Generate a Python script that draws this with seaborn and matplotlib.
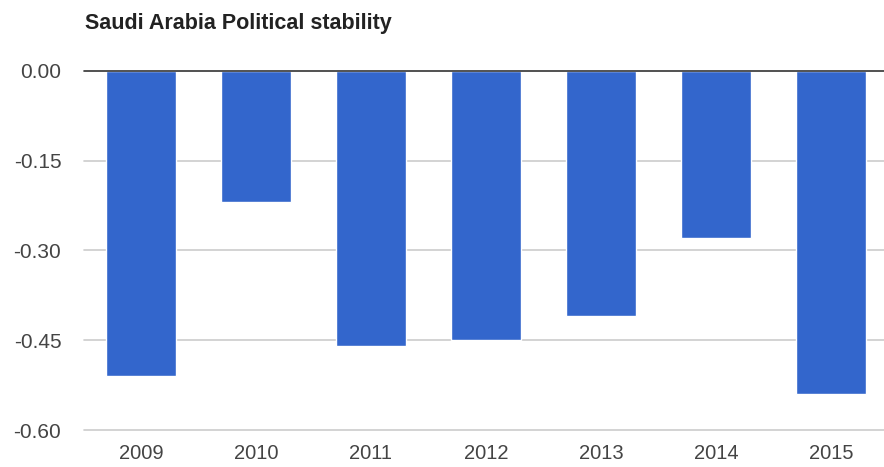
import matplotlib
matplotlib.use("Agg")
import matplotlib.pyplot as plt
import seaborn as sns
import pandas as pd

years = ["2009", "2010", "2011", "2012", "2013", "2014", "2015"]
values = [-0.51, -0.22, -0.46, -0.45, -0.41, -0.28, -0.54]
yticks = [0.0, -0.15, -0.30, -0.45, -0.60]
ytick_labels = ["0.00", "-0.15", "-0.30", "-0.45", "-0.60"]
title = "Saudi Arabia Political stability"

sns.set_style("white")
plt.rcParams['font.family'] = ['Liberation Sans', 'DejaVu Sans']

df = pd.DataFrame({"year": years, "value": values})

W, H = 884, 467
fig = plt.figure(figsize=(W / 100, H / 100), dpi=100)
ax = fig.add_axes([83.5 / W, (H - 430) / H, 805 / W, 359.3 / H])

sns.barplot(data=df, x="year", y="value", color="#3366CC", saturation=1,
            width=0.61, ax=ax, zorder=3)

ax.set_xlim(-0.5, 6.5)
ax.set_ylim(-0.6, 0)
ax.set_yticks(yticks)
ax.set_yticklabels(ytick_labels)
for y in yticks[1:]:
    ax.axhline(y, color="#cccccc", lw=1.2, zorder=1, clip_on=False)
ax.axhline(0, color="#333333", lw=1.2, zorder=4, clip_on=False)

for s in ax.spines.values():
    s.set_visible(False)

ax.set_xlabel("")
ax.set_ylabel("")
ax.tick_params(axis="y", length=0, pad=16, labelsize=15, labelcolor="#444444")
ax.tick_params(axis="x", length=0, pad=10, labelsize=14.5, labelcolor="#444444")

fig.text(85 / W, 1 - 23 / H, title, fontsize=15.5, fontweight="bold",
         color="#222222", va="center", ha="left")

fig.savefig("out.png", dpi=100)
